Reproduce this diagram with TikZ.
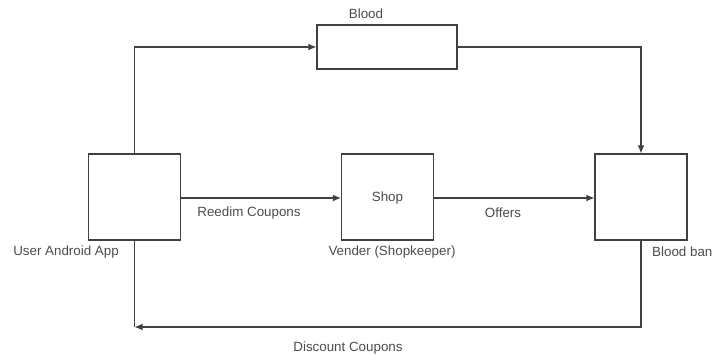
\documentclass[tikz,border=0pt]{standalone}
\usepackage{fontspec}
\setmainfont{Liberation Sans}
\usetikzlibrary{arrows.meta}
\tikzset{
    lbltext/.style={text=black!70, font=\fontsize{11.4}{13}\selectfont},
    lbl/.style={lbltext, inner sep=0pt},
    block/.style={draw=black!75, line width=0.9pt, fill=white, inner sep=0pt},
    squarebox/.style={block, lbltext, minimum width=27.6mm, minimum height=25.8mm},
    widebox/.style={block, minimum width=42mm, minimum height=13.2mm},
    flow/.style={draw=black!75, line width=0.9pt},
    flowarrow/.style={flow, -{Latex[length=2.4mm, width=2mm]}}
}

\begin{document}
\begin{tikzpicture}[x=0.3mm, y=-0.3mm]

	\useasboundingbox (0, 0) rectangle (715, 359);

		% boxes
		\node[ squarebox ] (user) at (134.5, 197) {};
		\node[ squarebox, text depth=0pt ] (shop) at (387.5, 197) {Shop};
		\node[ squarebox ] (bank) at (641, 197) {};
		\node[ widebox ] (blood) at (387, 47) {};

		\node[ lbl ] (userlbl) at (66, 252) {User Android App};
		\node[ lbl ] (shoplbl) at (392, 252) {Vender (Shopkeeper)};
		\node[ lbl, anchor=west ] (banklbl) at (652, 252) {Blood ban};
		\node[ lbl ] (bloodlbl) at (366, 14) {Blood};
		\node[ lbl ] (reedim) at (249, 213) {Reedim Coupons};
		\node[ lbl ] (offers) at (503, 213) {Offers};
		\node[ lbl ] (discount) at (348, 348) {Discount Coupons};

	\def\ymid{198}
	\def\ybottom{327}

		% top route
		\draw[ flowarrow ] (user.north) |- (blood.west);
		\draw[ flowarrow ] (blood.east) -| (bank.north);

		% middle route
		\draw[ flowarrow ] (user.east |- 0, \ymid) -- (shop.west |- 0, \ymid);
		\draw[ flowarrow ] (shop.east |- 0, \ymid) -- (bank.west |- 0, \ymid);

		% bottom route
		\coordinate (corner) at (user.south |- 0, \ybottom);
		\draw[ flow ] (user.south) -- (corner);
		\draw[ flowarrow ] (bank.south) |- (corner);

\end{tikzpicture}
\end{document}
